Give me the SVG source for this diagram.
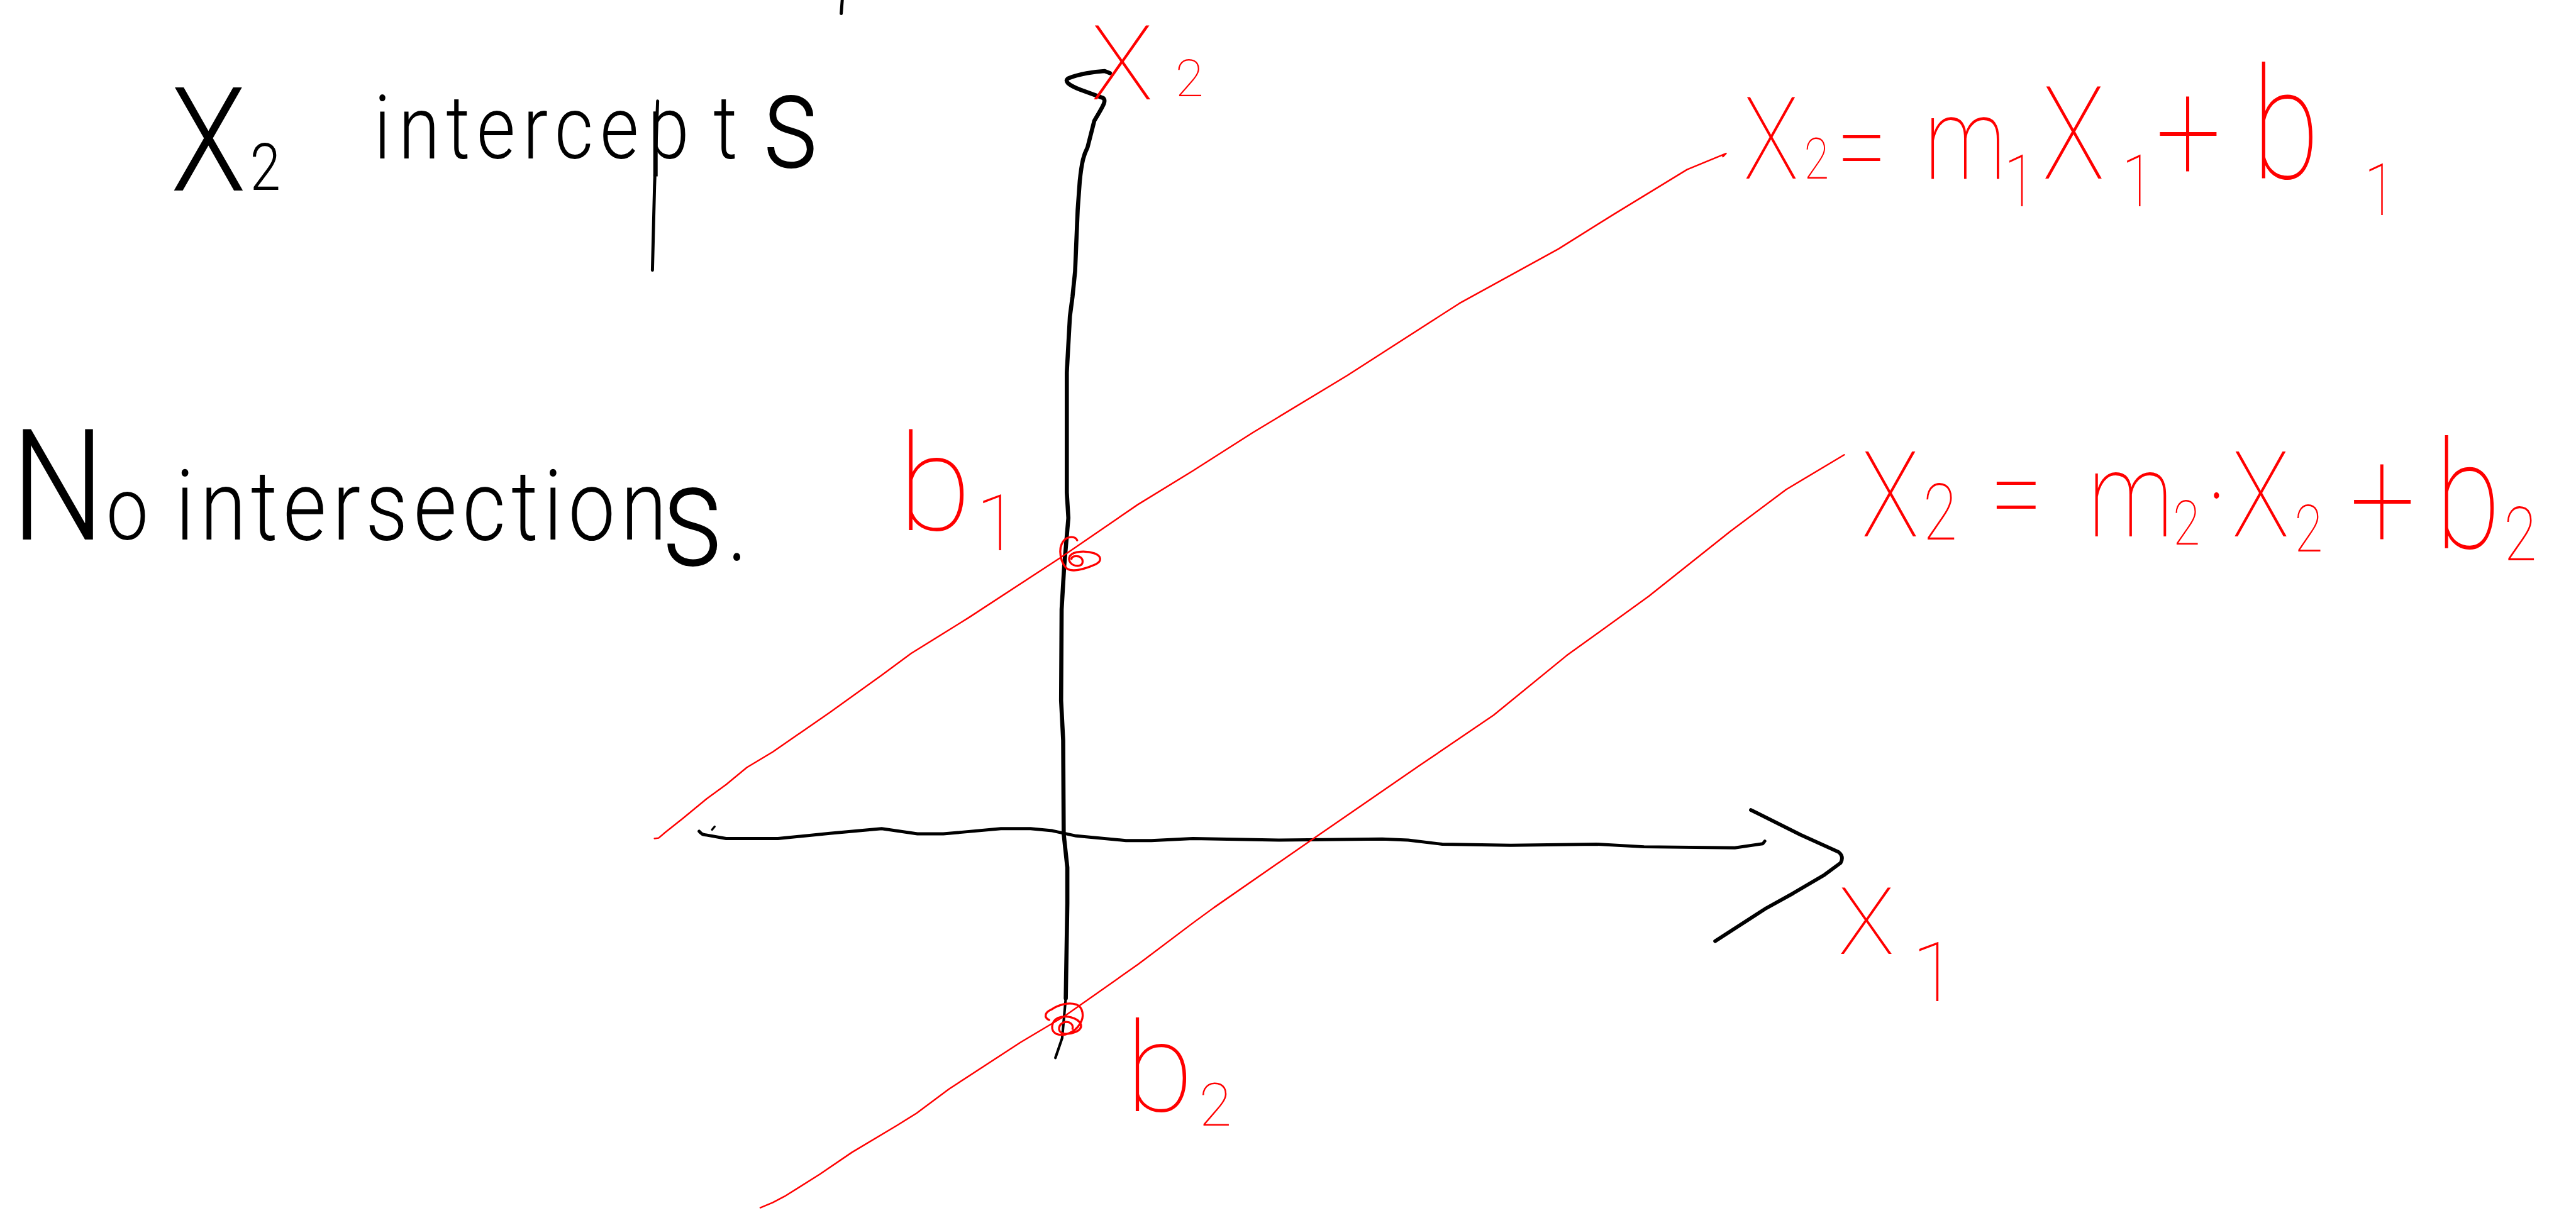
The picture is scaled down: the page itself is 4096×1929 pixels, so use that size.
<svg xmlns="http://www.w3.org/2000/svg" width="4096" height="1929" viewBox="0 0 4096 1929">
<style>
.ink{fill:none;stroke-linecap:round;stroke-linejoin:round}
.k{stroke:#000000}
.r{stroke:#ff0000}
text{font-family:Roboto,"Liberation Sans",sans-serif}
.tk{fill:#000000;font-weight:300}
.tr{fill:#ff0000;font-weight:100}
</style>
<rect width="4096" height="1929" fill="#ffffff"/>
<g transform="scale(0.824643)">
<g id="connectors">
<path id="y-axis" class="ink k" stroke-width="8" d="M2140,141 L2130,137 C2110,138 2080,143 2060,151 C2052,156 2058,163 2083,173 L2127,189 C2133,194 2130,200 2110,233 L2097,284 C2090,298 2086,310 2082,349 L2078,404 L2073,523 L2068,572 L2063,610 L2057,718 L2057,950 L2060,999 L2052,1091 L2047,1175 L2046,1351 L2050,1428 L2051,1608 L2058,1673 L2058,1742 L2055,1925"/>
<path class="ink k" stroke-width="5" d="M2055,1925 L2048,2002 L2035,2040"/>
<path id="x-axis" class="ink k" stroke-width="6" d="M1348,1603 C1352,1608 1356,1610 1360,1610 L1400,1617 L1500,1617 L1600,1607 L1700,1598 L1769,1608 L1819,1608 L1930,1598 L1987,1598 L2029,1602 L2075,1612 L2171,1621 L2220,1621 L2300,1617 L2466,1620 L2665,1618 L2715,1620 L2781,1628 L2913,1630 L3079,1628 L3170,1633 L3345,1635 L3399,1627 L3403,1622"/>
<path class="ink k" stroke-width="4" d="M1373,1600 L1378,1594"/>
<path id="x-arrowhead" class="ink k" stroke-width="7" d="M3376,1562 L3472,1610 L3545,1643 Q3556,1652 3549,1664 L3518,1687 L3457,1723 L3403,1753 L3307,1815"/>
<path id="line-1" class="ink r" stroke-width="3" d="M1262,1617 L1270,1616 L1283,1605 L1317,1578 L1363,1540 L1400,1513 L1440,1480 L1490,1450 L1600,1374 L1700,1302 L1757,1260 L1868,1191 L2044,1076 L2194,973 L2300,908 L2416,834 L2598,724 L2814,585 L3005,480 L3112,413 L3253,327 L3328,296 L3322,302"/>
<path id="line-2" class="ink r" stroke-width="3" d="M1466,2329 L1490,2319 L1513,2307 L1580,2265 L1643,2222 L1730,2170 L1767,2147 L1830,2100 L1968,2010 L2052,1960 L2194,1860 L2300,1780 L2341,1750 L2524,1623 L2739,1475 L2880,1379 L3021,1264 L3179,1150 L3336,1025 L3444,944 L3556,877"/>
</g>
<g id="intercept-b1-mark">
<path class="ink r" stroke-width="4" d="M2077,1042 C2073,1033 2058,1034 2050,1044 C2040,1058 2044,1085 2058,1097 C2070,1104 2095,1096 2113,1088 C2125,1082 2124,1072 2110,1067 C2095,1062 2070,1062 2063,1072 C2058,1082 2066,1092 2080,1091 C2090,1089 2090,1077 2080,1073 C2072,1071 2066,1074 2066,1078"/>
</g>
<g id="intercept-b2-mark">
<path class="ink r" stroke-width="4" d="M2023,1967 C2012,1962 2015,1952 2027,1947 C2040,1938 2060,1932 2075,1937 C2088,1942 2092,1960 2082,1975 C2073,1990 2052,2000 2037,1994 C2025,1988 2026,1970 2040,1963 C2055,1957 2078,1962 2084,1975 C2088,1988 2065,1996 2050,1993 C2038,1990 2040,1975 2053,1971 C2063,1969 2070,1976 2068,1984"/>
</g>
<g id="title-x2-intercepts">
<text class="tk" transform="scale(0.85,1)" font-size="170" y="305"><tspan x="387" y="368" font-size="280">X</tspan><tspan x="567" y="366" font-size="125">2</tspan> <tspan x="848 904 1012 1081 1186 1258 1361 1469 1618" y="305">intercept</tspan><tspan x="1728" y="322" font-size="260">s</tspan></text>
<path class="ink k" stroke-width="6" d="M1268,195 L1262,360 L1258,521"/>
<path class="ink k" stroke-width="6" d="M1624,0 L1622,26"/>
</g>
<g id="note-no-intersections">
<text class="tk" transform="scale(0.85,1)" font-size="190" y="1040"><tspan x="25" font-size="300">N</tspan><tspan x="241" font-size="170">o</tspan> <tspan x="398 454 569 642 754 829 938 1049 1160 1233 1289 1408" y="1040">intersection</tspan><tspan x="1500" y="1090" font-size="280">s</tspan><tspan x="1650" y="1080">.</tspan></text>
</g>
<g id="label-x2-axis">
<text class="tr" font-size="200" x="2104" y="192">X<tspan x="2266" y="185" font-size="100">2</tspan></text>
</g>
<g id="label-x1-axis">
<text class="tr" font-size="180" x="3545" y="1840">X<tspan x="3686" y="1931" font-size="160">1</tspan></text>
</g>
<g id="label-b1">
<text class="tr" font-size="260" x="1731" y="1022">b<tspan x="1882" y="1061" font-size="150">1</tspan></text>
</g>
<g id="label-b2">
<text class="tr" font-size="240" x="2170" y="2143">b<tspan x="2312" y="2171" font-size="115">2</tspan></text>
</g>
<g id="equation-1">
<text class="tr" transform="scale(0.8,1)" font-size="220" y="345"><tspan x="4203">X</tspan><tspan x="4348" font-size="110">2</tspan><tspan x="4426" y="358">=</tspan><tspan x="4638" y="345">m</tspan><tspan x="4830" y="398" font-size="140">1</tspan><tspan x="4923" y="345" font-size="250">X</tspan><tspan x="5114" y="398" font-size="140">1</tspan><tspan x="5196" y="350" font-size="280">+</tspan><tspan x="5427" y="345" font-size="300">b</tspan><tspan x="5698" y="415" font-size="140">1</tspan></text>
</g>
<g id="equation-2">
<text class="tr" transform="scale(0.8,1)" font-size="230" y="1035"><tspan x="4487">X</tspan><tspan x="4635" y="1040" font-size="150">2</tspan><tspan x="4796" y="1030">=</tspan><tspan x="5032" y="1035">m</tspan><tspan x="5237" y="1050" font-size="120">2</tspan><tspan x="5316" y="1035">·</tspan><tspan x="5380" y="1035">X</tspan><tspan x="5530" y="1063" font-size="125">2</tspan><tspan x="5664" y="1060" font-size="280">+</tspan><tspan x="5869" y="1057" font-size="290">b</tspan><tspan x="6035" y="1080" font-size="145">2</tspan></text>
</g>
</g>
</svg>
